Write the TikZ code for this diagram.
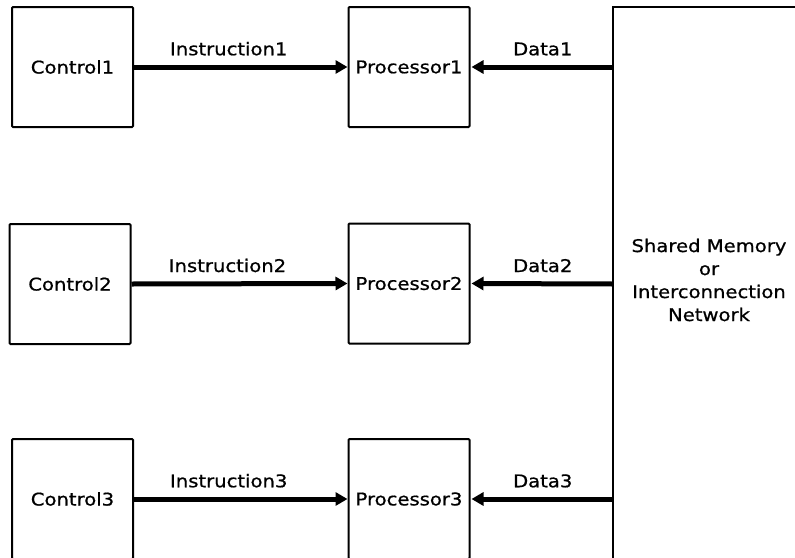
\documentclass[tikz,border=0pt]{standalone}
\usepackage{fontspec}
\setmainfont[FakeStretch=1.12,FakeBold=0.8]{DejaVu Sans}
\usetikzlibrary{arrows.meta}

\tikzset{
  unit/.style={draw, line width=2pt, rounded corners=1pt, minimum width=121pt,
    minimum height=120pt, inner sep=0pt},
  bus/.style={line width=5pt, -{Triangle[length=12pt,width=13pt]}},
  lbl/.style={inner sep=0pt}
}

\begin{document}
\begin{tikzpicture}[x=1pt,y=-1pt,font=\fontsize{17.5}{23}\selectfont]
    \useasboundingbox (0,0) rectangle (795,557);
    \clip (0,0) rectangle (795,557);

    % Draw the shared memory block on the right
    \draw[line width=2pt] (613,600) -- (613,7) -- (830,7);
    \node[lbl, align=center] (mem) at (709,280) {Shared Memory\\or\\Interconnection\\Network};
    \coordinate (m1) at (613,67);
    \coordinate (m2) at (613,284);
    \coordinate (m3) at (613,499);

    % Draw the control units
    \node[unit] (c1) at (72.5,67) {Control1};
    \node[unit] (c2) at (70,284) {Control2};
    \node[unit] (c3) at (72.5,499) {Control3};

    % Draw the processors
    \node[unit] (p1) at (409,67) {Processor1};
    \node[unit] (p2) at (409,283.5) {Processor2};
    \node[unit] (p3) at (409,499) {Processor3};

    % Instruction streams
    \draw[bus] (c1.east) -- (p1.west) node[lbl, midway, above=9pt, xshift=-12pt] {Instruction1};
    \draw[bus] (c2.east) -- (p2.west) node[lbl, midway, above=9pt, xshift=-12pt] {Instruction2};
    \draw[bus] (c3.east) -- (p3.west) node[lbl, midway, above=9pt, xshift=-12pt] {Instruction3};

    % Data streams
    \draw[bus, shorten >=-1pt] (m1) -- ([xshift=2pt]p1.east) node[lbl, midway, above=9pt] {Data1};
    \draw[bus, shorten >=-1pt] (m2) -- ([xshift=2pt]p2.east) node[lbl, midway, above=9pt] {Data2};
    \draw[bus, shorten >=-1pt] (m3) -- ([xshift=2pt]p3.east) node[lbl, midway, above=9pt] {Data3};

\end{tikzpicture}
\end{document}
